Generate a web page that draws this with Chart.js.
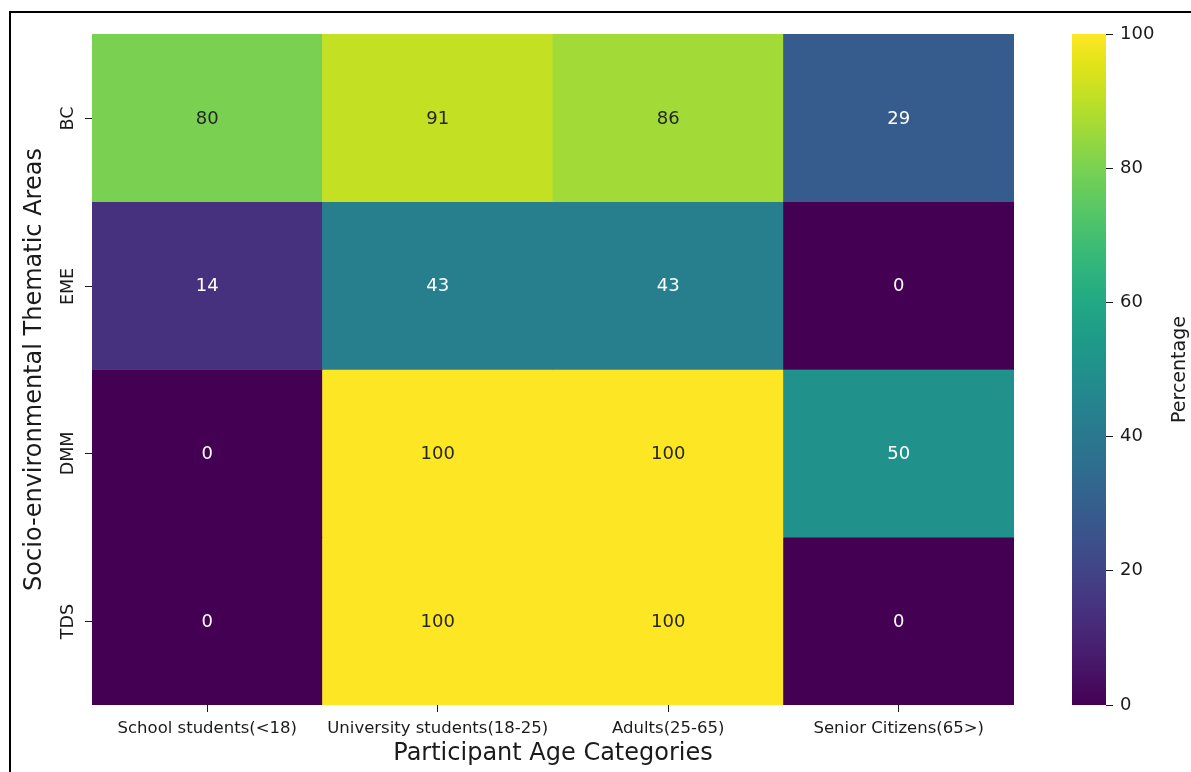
<!DOCTYPE html>
<html>
<head>
<meta charset="utf-8">
<title>Participant age vs thematic areas</title>
<script src="https://cdn.jsdelivr.net/npm/chart.js@4.4.1/dist/chart.umd.min.js"></script>
<style>
  html, body { margin: 0; padding: 0; background: #fff; }
  #wrap { position: relative; width: 1191px; height: 772px; }
  #frame {
    position: absolute; left: 9px; top: 11px; right: 0; bottom: 0;
    border-top: 2px solid #000; border-left: 2px solid #000;
    pointer-events: none;
  }
</style>
</head>
<body>
<div id="wrap">
  <canvas id="heatmap"></canvas>
  <div id="frame"></div>
</div>
<script>
const ageGroups = ['School students(<18)', 'University students(18-25)', 'Adults(25-65)', 'Senior Citizens(65>)'];
const thematicAreas = ['BC', 'EME', 'DMM', 'TDS'];

// percentage per thematic area, one value per age group
const bcValues = [80, 91, 86, 29];
const emeValues = [14, 43, 43, 0];
const dmmValues = [0, 100, 100, 50];
const tdsValues = [0, 100, 100, 0];

const colorbarTicks = [0, 20, 40, 60, 80, 100];
const colorbarLabel = 'Percentage';

// viridis sampled every 5%
const viridisStops = [
  '#440154', '#471365', '#482475', '#463480', '#414487', '#3b528b', '#355f8d',
  '#2f6c8e', '#2a788e', '#25848e', '#21918c', '#1e9c89', '#22a884', '#2fb47c',
  '#44bf70', '#5ec962', '#7ad151', '#9bd93c', '#bddf26', '#dfe318', '#fde725'
];

function hexToRgb(hex) {
  const n = parseInt(hex.slice(1), 16);
  return [(n >> 16) & 255, (n >> 8) & 255, n & 255];
}

function viridisRgb(t) {
  t = Math.min(1, Math.max(0, t));
  const pos = t * (viridisStops.length - 1);
  const i = Math.min(Math.floor(pos), viridisStops.length - 2);
  const f = pos - i;
  const a = hexToRgb(viridisStops[i]);
  const b = hexToRgb(viridisStops[i + 1]);
  return a.map((c, k) => Math.round(c + (b[k] - c) * f));
}

function viridis(t) {
  const [r, g, b] = viridisRgb(t);
  return `rgb(${r}, ${g}, ${b})`;
}

// dark text on bright cells, white on dark ones
function annotColor(t) {
  const lin = viridisRgb(t).map(c => {
    c /= 255;
    return c <= 0.03928 ? c / 12.92 : Math.pow((c + 0.055) / 1.055, 2.4);
  });
  const lum = 0.2126 * lin[0] + 0.7152 * lin[1] + 0.0722 * lin[2];
  return lum > 0.408 ? '#262626' : '#ffffff';
}

const rows = [bcValues, emeValues, dmmValues, tdsValues];
const vmax = 100;
const textColor = '#1a1a1a';

Chart.defaults.font.family = "'DejaVu Sans', sans-serif";
Chart.defaults.color = textColor;

const heatmapExtras = {
  id: 'heatmapExtras',
  afterDatasetsDraw(chart) {
    const ctx = chart.ctx;
    ctx.save();
    ctx.font = "18px 'DejaVu Sans'";
    ctx.textAlign = 'center';
    ctx.textBaseline = 'middle';
    chart.data.datasets.forEach((ds, di) => {
      chart.getDatasetMeta(di).data.forEach((bar, i) => {
        const v = ds.values[i];
        ctx.fillStyle = annotColor(v / vmax);
        ctx.fillText(String(v), bar.x, (bar.y + bar.base) / 2 + 1);
      });
    });
    ctx.restore();
  },
  afterDraw(chart) {
    const ctx = chart.ctx;
    const area = chart.chartArea;
    const y = chart.scales.y;
    const cb = chart.scales.cb;

    // row ticks and rotated row labels
    ctx.save();
    ctx.strokeStyle = textColor;
    ctx.lineWidth = 1;
    ctx.fillStyle = textColor;
    ctx.font = "17.5px 'DejaVu Sans'";
    ctx.textAlign = 'center';
    ctx.textBaseline = 'middle';
    thematicAreas.forEach((name, i) => {
      const py = Math.round(y.getPixelForValue(i + 0.5)) + 0.5;
      ctx.beginPath();
      ctx.moveTo(area.left - 7, py);
      ctx.lineTo(area.left, py);
      ctx.stroke();
      ctx.save();
      ctx.translate(area.left - 24, py);
      ctx.rotate(-Math.PI / 2);
      ctx.fillText(name, 0, 0);
      ctx.restore();
    });
    ctx.restore();

    // colour bar
    const top = cb.getPixelForValue(vmax);
    const bottom = cb.getPixelForValue(0);
    const grad = ctx.createLinearGradient(0, bottom, 0, top);
    viridisStops.forEach((c, i) => grad.addColorStop(i / (viridisStops.length - 1), c));
    ctx.save();
    ctx.fillStyle = grad;
    ctx.fillRect(cb.left - 34, top, 34, bottom - top);

    ctx.fillStyle = textColor;
    ctx.font = "19px 'DejaVu Sans'";
    ctx.textAlign = 'center';
    ctx.textBaseline = 'middle';
    ctx.translate(1180, (top + bottom) / 2);
    ctx.rotate(-Math.PI / 2);
    ctx.fillText(colorbarLabel, 0, 0);
    ctx.restore();
  }
};

new Chart(document.getElementById('heatmap'), {
  type: 'bar',
  data: {
    labels: ageGroups,
    datasets: rows.map((vals, r) => ({
      label: thematicAreas[r],
      data: vals.map(() => [r, r + 1]),
      values: vals,
      backgroundColor: vals.map(v => viridis(v / vmax)),
      borderWidth: 0,
      barPercentage: 1,
      categoryPercentage: 1,
      grouped: false
    }))
  },
  options: {
    responsive: true,
    maintainAspectRatio: false,
    animation: false,
    events: [],
    layout: { padding: { top: 34, left: 10, right: 0, bottom: 0 } },
    plugins: {
      legend: { display: false },
      tooltip: { enabled: false }
    },
    scales: {
      x: {
        type: 'category',
        grid: { display: true, drawOnChartArea: false, offset: false, tickLength: 7, color: textColor },
        border: { display: false },
        ticks: { font: { size: 16.5 }, color: textColor, padding: 7, maxRotation: 0, autoSkip: false },
        title: { display: true, text: 'Participant Age Categories', font: { size: 24 }, color: textColor, padding: { top: 0, bottom: 4 } },
        afterFit: s => { s.height = 67; }
      },
      y: {
        type: 'linear',
        min: 0,
        max: thematicAreas.length,
        reverse: true,
        grid: { display: false },
        border: { display: false },
        ticks: { display: false },
        title: { display: true, text: 'Socio-environmental Thematic Areas', font: { size: 24 }, color: textColor, padding: { top: 10, bottom: 0 } },
        afterFit: s => { s.width = 82; }
      },
      gap: {
        type: 'linear',
        position: 'right',
        weight: 0,
        grid: { display: false },
        border: { display: false },
        ticks: { display: false },
        afterFit: s => { s.width = 92; }
      },
      cb: {
        type: 'linear',
        position: 'right',
        weight: 1,
        min: 0,
        max: vmax,
        afterBuildTicks: s => { s.ticks = colorbarTicks.map(v => ({ value: v })); },
        grid: { drawOnChartArea: false, tickLength: 7, color: textColor },
        border: { display: false },
        ticks: { font: { size: 18 }, color: textColor, padding: 7 },
        afterFit: s => { s.width = 85; }
      }
    }
  },
  plugins: [heatmapExtras]
});
</script>
</body>
</html>
